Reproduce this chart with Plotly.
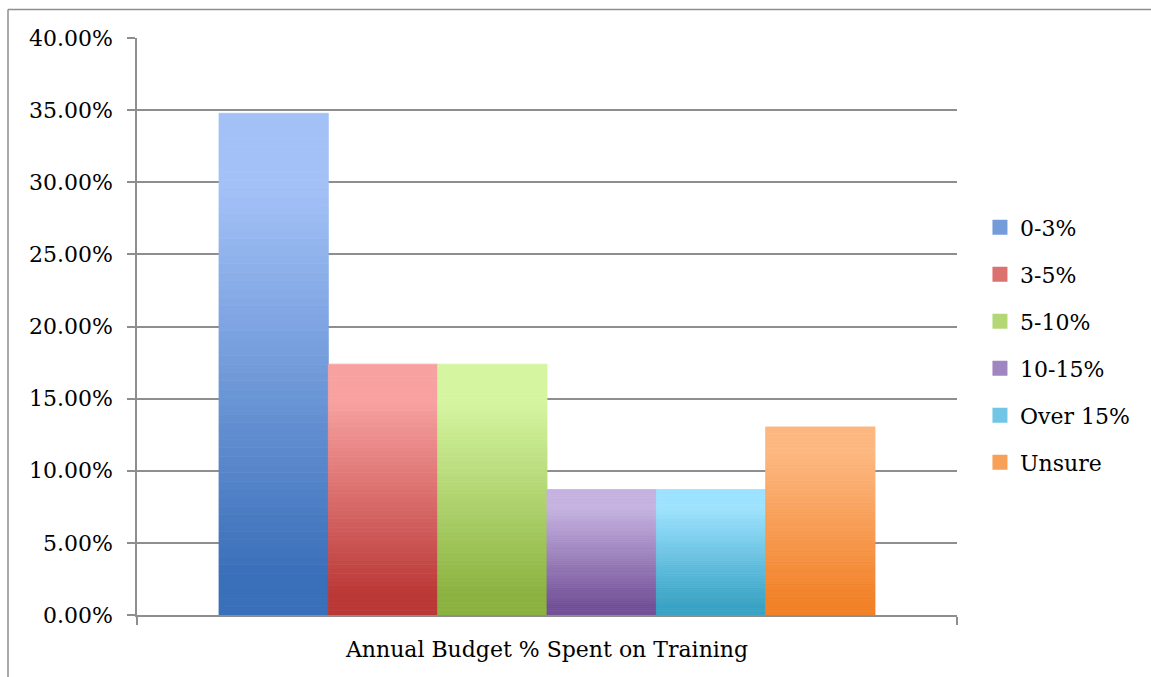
import plotly.graph_objects as go

# Survey share of respondents by training-budget band
category = "Annual Budget % Spent on Training"
bands = ["0-3%", "3-5%", "5-10%", "10-15%", "Over 15%", "Unsure"]
shares = [0.3478, 0.1739, 0.1739, 0.0870, 0.0870, 0.1304]

# Gradient end colours per band (bottom -> top)
dark = ["#3a6fb9", "#ba3836", "#8cb240", "#735198", "#39a3c5", "#f28228"]
light = ["#a3c1f7", "#f7a1a0", "#d5f5a0", "#c5b2e0", "#9de2fe", "#fdb780"]

y_ticks = [0, 0.05, 0.10, 0.15, 0.20, 0.25, 0.30, 0.35, 0.40]

FONT = "DejaVu Serif"
GRID = "#8e8e8e"
N_SEG = 60


def hex_rgb(h):
    h = h.lstrip("#")
    return tuple(int(h[i:i + 2], 16) for i in (0, 2, 4))


def blend(c0, c1, t):
    a, b = hex_rgb(c0), hex_rgb(c1)
    return "rgb({},{},{})".format(*[round(a[i] + (b[i] - a[i]) * t) for i in range(3)])


def ramp(t):
    # hold the dark shade near the base and the light shade near the top
    lo, hi = 0.08, 0.85
    if t <= lo:
        return 0.0
    if t >= hi:
        return 1.0
    return (t - lo) / (hi - lo)


fig = go.Figure()

for name, val, c0, c1 in zip(bands, shares, dark, light):
    step = val / N_SEG
    bases = [i * step for i in range(N_SEG)]
    colors = [blend(c0, c1, ramp((i + 0.5) / N_SEG)) for i in range(N_SEG)]
    fig.add_trace(go.Bar(
        x=[category] * N_SEG,
        y=[step] * N_SEG,
        base=bases,
        name=name,
        offsetgroup=name,
        marker=dict(color=colors, line=dict(width=0.8, color=colors)),
        showlegend=False,
        hoverinfo="skip",
    ))

# legend swatches
for name, c0, c1 in zip(bands, dark, light):
    fig.add_trace(go.Scatter(
        x=[None], y=[None], mode="markers", name=name, legendgroup=name,
        marker=dict(symbol="square", size=15, color=blend(c0, c1, 0.55),
                    line=dict(width=0)),
    ))

# outer frame (top and left edges)
fig.add_shape(type="line", xref="paper", yref="paper",
              x0=(8 - 137) / 820, x1=(1151 - 137) / 820,
              y0=1 + (38 - 9.5) / 577, y1=1 + (38 - 9.5) / 577,
              line=dict(color=GRID, width=1.5))
fig.add_shape(type="line", xref="paper", yref="paper",
              x0=(8 - 137) / 820, x1=(8 - 137) / 820,
              y0=1 + (38 - 9.5) / 577, y1=-(677 - 615) / 577,
              line=dict(color=GRID, width=1.5))

fig.update_layout(
    width=1151, height=677,
    margin=dict(l=137, r=194, t=38, b=62),
    paper_bgcolor="white", plot_bgcolor="white",
    barmode="group", bargap=0.2, bargroupgap=0,
    font=dict(family=FONT, size=22, color="black"),
    legend=dict(x=1.028, y=0.468, xanchor="left", yanchor="middle",
                font=dict(family=FONT, size=22), tracegroupgap=15.4,
                itemwidth=30, bgcolor="rgba(0,0,0,0)"),
    xaxis=dict(
        type="category", showgrid=False, showline=True, linecolor=GRID,
        linewidth=1.5, ticks="outside", tickson="boundaries", ticklen=8,
        tickcolor=GRID, tickwidth=1.5, ticklabelstandoff=14,
        tickfont=dict(family=FONT, size=22),
    ),
    yaxis=dict(
        range=[0, 0.40], tickvals=y_ticks, tickformat=".2%",
        showgrid=True, gridcolor=GRID, gridwidth=1.5,
        showline=True, linecolor=GRID, linewidth=1.5,
        ticks="outside", ticklen=8, tickcolor=GRID, tickwidth=1.5,
        ticklabelstandoff=10, zeroline=False,
        tickfont=dict(family=FONT, size=22),
    ),
)

fig.write_html("out.html")
